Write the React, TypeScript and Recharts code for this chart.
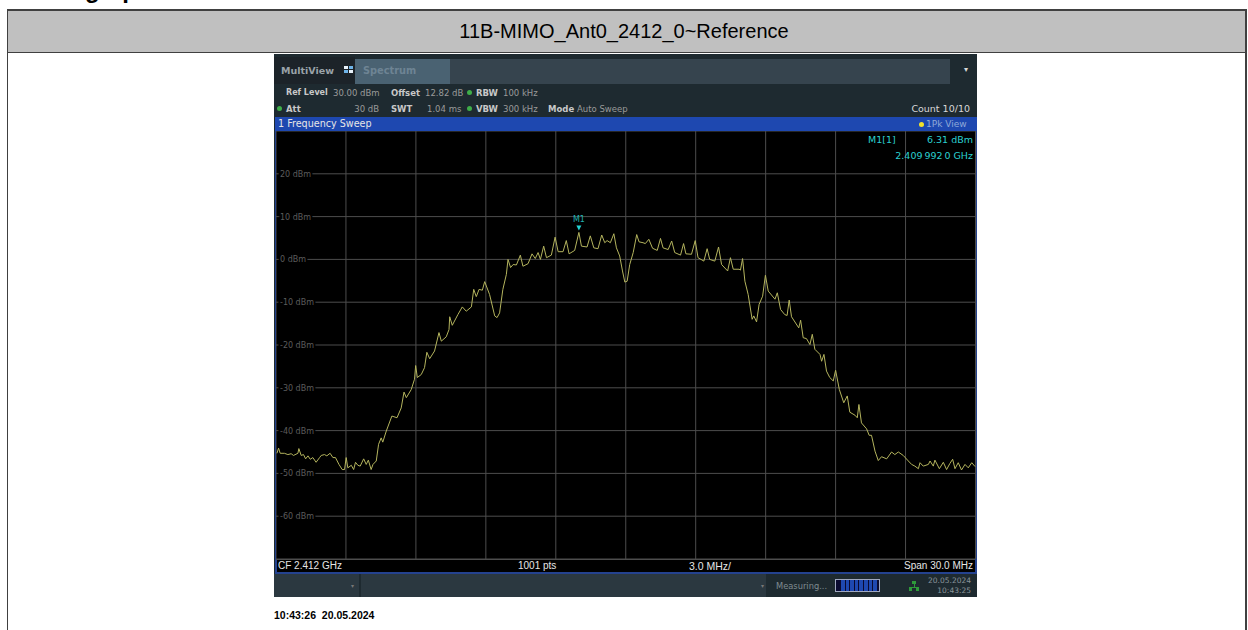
import { CartesianGrid, Line, LineChart, ReferenceDot, XAxis, YAxis } from "recharts"

const freqOffsetMHz = [
  0.04, 0.11, 0.18, 0.36, 0.51, 0.65, 0.75, 0.94, 0.98, 1.08, 1.18, 1.27, 1.37, 1.47, 1.58, 1.72, 1.87, 1.94, 2.08, 2.18,
  2.32, 2.44, 2.55, 2.7, 2.84, 2.94, 3.01, 3.08, 3.23, 3.33, 3.41, 3.51, 3.61, 3.76, 3.87, 3.96, 4.08, 4.16, 4.3, 4.4,
  4.51, 4.58, 4.73, 4.97, 5.19, 5.37, 5.49, 5.59, 5.8, 5.94, 5.99, 6.06, 6.23, 6.37, 6.47, 6.59, 6.8, 6.99, 7.09, 7.3,
  7.42, 7.45, 7.56, 7.8, 7.99, 8.16, 8.38, 8.48, 8.59, 8.71, 8.85, 8.95, 9.16, 9.38, 9.48, 9.59, 9.73, 9.88, 9.95, 10.06,
  10.17, 10.31, 10.48, 10.59, 10.81, 10.98, 11.12, 11.24, 11.34, 11.48, 11.6, 11.81, 11.97, 12.1, 12.31, 12.45, 12.57, 12.81, 12.99, 13.1,
  13.34, 13.48, 13.63, 13.81, 13.97, 14.1, 14.2, 14.34, 14.49, 14.6, 14.74, 14.86, 14.96, 15.06, 15.17, 15.32, 15.47, 15.57, 15.74, 15.84,
  15.99, 16.15, 16.35, 16.49, 16.6, 16.82, 16.97, 17.1, 17.35, 17.48, 17.58, 17.82, 17.98, 18.1, 18.35, 18.49, 18.6, 18.82, 18.98, 19.11,
  19.37, 19.49, 19.61, 19.86, 19.92, 20.01, 20.11, 20.25, 20.42, 20.49, 20.61, 20.72, 20.87, 20.99, 21.11, 21.4, 21.5, 21.64, 21.82, 21.92,
  22.01, 22.11, 22.42, 22.5, 22.61, 22.75, 22.9, 23.0, 23.11, 23.33, 23.4, 23.5, 23.61, 23.75, 23.9, 24.0, 24.16, 24.35, 24.5, 24.61,
  24.83, 24.93, 25.0, 25.11, 25.33, 25.44, 25.54, 25.69, 25.83, 25.97, 26.19, 26.4, 26.54, 26.69, 26.9, 27.12, 27.26, 27.4, 27.55, 27.62,
  27.76, 27.98, 28.05, 28.19, 28.26, 28.45, 28.62, 28.76, 28.9, 29.02, 29.12, 29.26, 29.4, 29.55, 29.69, 29.84, 29.98,
]

const traceDbm = [
  -45.3, -44.1, -45.3, -45.3, -45.6, -45.4, -45.8, -45.3, -44.2, -45.8, -45.6, -46.6, -45.9, -46.7, -46.3, -47.4, -46.3, -45.8, -45.6, -45.9,
  -45.3, -46.3, -46.3, -47.9, -49.1, -49.1, -46.3, -48.7, -48.1, -49.1, -47.4, -48.1, -48.3, -46.6, -47.9, -46.9, -49.1, -47.9, -47.1, -43.2,
  -41.7, -42.7, -40.1, -36.6, -37.0, -34.7, -31.0, -32.3, -30.4, -28.0, -24.8, -27.6, -26.9, -25.3, -21.7, -23.2, -21.4, -17.1, -19.1, -18.1,
  -16.4, -13.4, -15.4, -12.9, -11.1, -12.1, -11.1, -7.0, -8.7, -7.0, -7.2, -5.2, -8.2, -13.2, -13.6, -12.5, -7.0, -3.5, 0.0, -1.9,
  -1.2, -1.3, 1.0, -1.6, -1.0, 1.3, 0.2, 1.6, 0.0, 3.1, 0.4, 1.0, 5.2, 1.8, 1.8, 4.4, 1.3, 2.1, 6.31, 3.1,
  2.9, 5.5, 2.7, 2.5, 5.7, 3.9, 4.4, 3.9, 6.0, 2.7, 0.8, -2.7, -5.3, -5.1, -1.2, 1.6, 5.8, 4.1, 3.9, 3.7,
  4.7, 2.6, 2.1, 4.9, 2.7, 2.3, 4.3, 1.6, 1.0, 3.7, 1.3, 1.2, 4.4, 0.4, -0.4, 2.5, 0.0, -0.4, 2.9, -1.2,
  -2.7, 0.4, -2.3, -2.3, -2.5, 0.2, -5.1, -8.2, -14.0, -13.2, -14.6, -10.5, -8.6, -3.7, -7.4, -9.3, -7.8, -11.7, -12.9, -13.1,
  -9.5, -13.4, -16.0, -14.2, -18.3, -18.5, -19.9, -17.5, -21.0, -22.2, -23.8, -22.2, -26.1, -27.6, -28.4, -25.9, -30.4, -33.5, -31.9, -35.7,
  -36.4, -37.0, -33.9, -38.2, -39.6, -41.1, -41.1, -44.8, -47.0, -46.1, -46.6, -45.0, -45.6, -45.0, -45.8, -47.1, -47.9, -48.3, -48.9, -47.5,
  -48.3, -47.9, -47.1, -48.3, -46.9, -48.9, -47.4, -49.1, -47.7, -46.7, -48.9, -47.5, -49.2, -47.9, -48.7, -47.5, -48.4,
]

const freqTicks = [0, 3, 6, 9, 12, 15, 18, 21, 24, 27, 30]
const levelTicks = [30, 20, 10, 0, -10, -20, -30, -40, -50, -60, -70]
const labelledLevels = [20, 10, 0, -10, -20, -30, -40, -50, -60]
const markerFreq = 12.99
const markerLevel = 6.31

const traceData = freqOffsetMHz.map((f, i) => ({ f, level: traceDbm[i] }))

const uiFont = "'DejaVu Sans', sans-serif"
const docFont = "'Liberation Sans', sans-serif"

function LevelTick({ y, payload }: any) {
  if (!labelledLevels.includes(payload.value)) return null
  return (
    <text
      x={4}
      y={y + 3}
      fontSize={8}
      fontFamily={uiFont}
      fill="#5c5c5c"
      stroke="#000"
      strokeWidth={4}
      paintOrder="stroke"
    >
      {payload.value} dBm
    </text>
  )
}

function MarkerShape({ cx, cy }: any) {
  return (
    <g>
      <path d={`M${cx - 2.5} ${cy - 7} h5 l-2.5 5 z`} fill="#22d3d3" />
      <text x={cx} y={cy - 10} textAnchor="middle" fontSize={8} fontFamily={uiFont} fill="#22b0b0">
        M1
      </text>
    </g>
  )
}

function Txt({ x, y, size = 8.5, color = "#c8c8c8", weight = 400, right, font = uiFont, children }: any) {
  const pos: any = right !== undefined ? { right: 1248 - right } : { left: x }
  return (
    <div
      style={{
        position: "absolute",
        top: y,
        ...pos,
        fontSize: size,
        color,
        fontWeight: weight,
        fontFamily: font,
        lineHeight: "12px",
        whiteSpace: "nowrap",
      }}
    >
      {children}
    </div>
  )
}

const Dot = ({ x, y, color = "#3fae49" }: any) => (
  <div style={{ position: "absolute", left: x, top: y, width: 5, height: 5, borderRadius: 3, background: color }} />
)

const Box = ({ x, y, w, h, c }: any) => (
  <div style={{ position: "absolute", left: x, top: y, width: w, height: h, background: c }} />
)

const progressSegments = [0, 1, 2, 3, 4, 5, 6, 7]

export default function App() {
  return (
    <div style={{ position: "absolute", left: 0, top: 0, width: 1248, height: 630, background: "#fff", overflow: "hidden" }}>
      {/* heading is cut by the page top, only the descenders show */}
      <div
        style={{
          position: "absolute",
          left: 85,
          top: -24,
          fontSize: 24,
          fontWeight: 700,
          fontFamily: docFont,
          lineHeight: "28px",
          color: "#000",
        }}
      >
        graph
      </div>
      <Box x={7} y={9} w={1240} h={44} c="#404040" />
      <Box x={8} y={11} w={1237} h={41} c="#c0c0c0" />
      <Box x={7} y={53} w={1} h={577} c="#404040" />
      <Box x={1245} y={53} w={2} h={577} c="#404040" />
      <div
        style={{
          position: "absolute",
          left: 8,
          top: 11,
          width: 1232,
          height: 41,
          lineHeight: "41px",
          textAlign: "center",
          fontSize: 20,
          fontFamily: docFont,
          color: "#000",
        }}
      >
        11B-MIMO_Ant0_2412_0~Reference
      </div>

      {/* instrument chrome */}
      <Box x={274} y={54} w={703} h={543} c="#1e2a30" />
      <Box x={274} y={57} w={81} h={27} c="#1c2329" />
      <Box x={355} y={59} w={95} h={25} c="#4a6272" />
      <Box x={450} y={59} w={500} h={25} c="#36444e" />
      <Txt x={281} y={65} size={9.5} weight={700} color="#9aa2a8">MultiView</Txt>
      <Box x={344} y={66} w={4} h={3} c="#e8f2fa" />
      <Box x={349} y={66} w={4} h={3} c="#6fb4e8" />
      <Box x={344} y={70} w={4} h={3} c="#6fb4e8" />
      <Box x={349} y={70} w={4} h={3} c="#e8f2fa" />
      <Txt x={363} y={65} size={9.8} weight={700} color="#6e8494">Spectrum</Txt>
      <Txt right={968} y={64} size={8} color="#d8d8d8">▾</Txt>

      <Txt x={286} y={87} size={8} weight={700}>Ref Level</Txt>
      <Txt x={333} y={87} color="#9a9a9a">30.00 dBm</Txt>
      <Txt x={391} y={87} weight={700}>Offset</Txt>
      <Txt x={425} y={87} color="#9a9a9a">12.82 dB</Txt>
      <Dot x={467} y={90} />
      <Txt x={476} y={87} weight={700}>RBW</Txt>
      <Txt x={503} y={87} color="#9a9a9a">100 kHz</Txt>

      <Dot x={277} y={106} />
      <Txt x={286} y={103} weight={700}>Att</Txt>
      <Txt right={379} y={103} color="#9a9a9a">30 dB</Txt>
      <Txt x={391} y={103} weight={700}>SWT</Txt>
      <Txt x={427} y={103} color="#9a9a9a">1.04 ms</Txt>
      <Dot x={467} y={106} />
      <Txt x={476} y={103} weight={700}>VBW</Txt>
      <Txt x={503} y={103} color="#9a9a9a">300 kHz</Txt>
      <Txt x={548} y={103} weight={700}>Mode</Txt>
      <Txt x={577} y={103} color="#9a9a9a">Auto Sweep</Txt>
      <Txt right={970} y={103} size={9.5} color="#d8d8d8">Count 10/10</Txt>

      <Box x={275} y={117} w={702} h={14} c="#1e48b0" />
      <Txt x={278} y={118} size={9.6} color="#e6e6e6">1 Frequency Sweep</Txt>
      <Dot x={919} y={122} color="#f2e22a" />
      <Txt x={926} y={118} size={9} color="#8fa8d8">1Pk View</Txt>

      {/* plot */}
      <Box x={275} y={131} w={702} h={442} c="#000" />
      <Box x={275} y={131} w={2} h={442} c="#24428f" />
      <Box x={975} y={131} w={2} h={442} c="#24428f" />
      <Box x={275} y={572} w={702} h={2} c="#24428f" />
      <div style={{ position: "absolute", left: 276, top: 131.2 }}>
        <LineChart
          width={699.5}
          height={428}
          data={traceData}
          margin={{ top: 0, right: 0, bottom: 0, left: 0 }}
          style={{ background: "#000" }}
        >
          <CartesianGrid stroke="#4d4d4d" strokeWidth={1} />
          <XAxis dataKey="f" type="number" domain={[0, 30]} ticks={freqTicks} hide />
          <YAxis
            type="number"
            domain={[-70, 30]}
            ticks={levelTicks}
            mirror
            axisLine={false}
            tickLine={false}
            tick={(p: any) => <LevelTick {...p} />}
            width={1}
            interval={0}
          />
          <Line
            dataKey="level"
            type="linear"
            stroke="#b4b45e"
            strokeWidth={1}
            dot={false}
            isAnimationActive={false}
          />
          <ReferenceDot x={markerFreq} y={markerLevel} shape={<MarkerShape />} />
        </LineChart>
      </div>
      <Box x={276} y={559} w={699} h={1} c="#4d4d4d" />
      <Txt right={973} y={134} size={9.5} color="#2ad0d0">6.31 dBm</Txt>
      <Txt x={868} y={134} size={9.5} color="#2ad0d0">M1[1]</Txt>
      <Txt right={973} y={150} size={9.5} color="#2ad0d0">2.409{"\u2009"}992{"\u2009"}0 GHz</Txt>

      <Txt x={278} y={560} size={10} color="#e6e6e6" font={docFont}>CF 2.412 GHz</Txt>
      <Txt x={518} y={560} size={10} color="#e6e6e6" font={docFont}>1001 pts</Txt>
      <Txt x={689} y={560} size={10.5} color="#e6e6e6" font={docFont}>3.0 MHz/</Txt>
      <Txt right={973} y={560} size={10} color="#e6e6e6" font={docFont}>Span 30.0 MHz</Txt>

      {/* status bar */}
      <Box x={274} y={574} w={85} h={23} c="#2b3840" />
      <Box x={361} y={574} w={405} h={23} c="#2b3840" />
      <Txt x={351} y={580} size={6} color="#777">▾</Txt>
      <Txt x={761} y={580} size={6} color="#777">▾</Txt>
      <Txt x={776} y={580} size={8.3} color="#7e8a90">Measuring...</Txt>
      <Box x={835} y={579} w={45} h={13} c="#a0a8c0" />
      <Box x={836} y={580} w={43} h={11} c="#0a0a30" />
      {progressSegments.map((i) => (
        <Box key={i} x={841 + i * 4.6} y={580} w={3.6} h={11} c="#1e48b0" />
      ))}
      <Box x={912} y={581} w={4} h={3} c="#2e9a3a" />
      <Box x={913.5} y={584} w={1} h={3} c="#2e9a3a" />
      <Box x={909} y={587} w={10} h={1} c="#2e9a3a" />
      <Box x={909} y={588} w={3} h={3} c="#2e9a3a" />
      <Box x={916} y={588} w={3} h={3} c="#2e9a3a" />
      <Txt right={971} y={575} size={7.5} color="#8a949a">20.05.2024</Txt>
      <Txt right={971} y={585} size={7.5} color="#8a949a">10:43:25</Txt>

      <Txt x={274} y={609} size={10.5} weight={700} color="#000" font={docFont}>10:43:26&nbsp; 20.05.2024</Txt>
    </div>
  )
}
